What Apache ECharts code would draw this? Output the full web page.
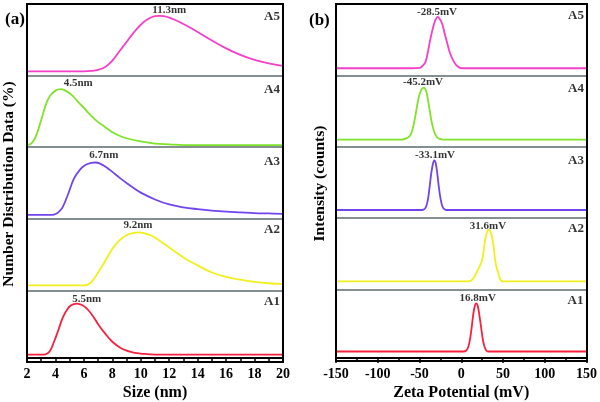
<!DOCTYPE html>
<html>
<head>
<meta charset="utf-8">
<script src="https://cdn.jsdelivr.net/npm/echarts@6/dist/echarts.min.js"></script>
<style>
  html, body { margin: 0; padding: 0; background: #fff; }
  #chart { width: 600px; height: 402px; }
</style>
</head>
<body>
<div id="chart"></div>
<script>
// Données (hauteur en % de la hauteur de chaque sous-graphe)
const sampleNames = ['A5', 'A4', 'A3', 'A2', 'A1'];
const sampleColors = ['#f53fc8', '#7fe32a', '#7144ee', '#f2ef1c', '#f5213f'];

// (a) distribution en taille, x en nm
const sizeA5 = [[2,6],[4,6],[6,6],[6.5,6.5],[7,8],[7.5,12],[8,21],[8.5,34],[9,47],[9.5,60],[10,71],[10.5,79],[11,83],[11.3,83.5],[11.6,83],[12,81],[12.5,77],[13,72],[14,61],[15,49],[16,38],[17,29],[18,22],[19,17],[20,13.5]];
const sizeA4 = [[2,3],[2.3,5],[2.6,14],[3,38],[3.3,58],[3.6,71],[4,79],[4.4,81],[4.8,78],[5.2,72],[5.6,63],[6,55],[6.5,44],[7,35],[7.5,28],[8,21],[8.5,16],[9,12.5],[10,8],[11,5],[12,4],[13,3],[14,3],[16,3],[18,3],[20,3]];
const sizeA3 = [[2,5.5],[3,5.5],[3.6,5.5],[3.9,6],[4.2,9],[4.5,16],[4.9,35],[5.3,56],[5.7,68],[6.1,75],[6.5,78],[6.8,78.6],[7.1,77.5],[7.5,73],[8,65.5],[8.5,57.5],[9,50],[9.5,43],[10,36.5],[11,27],[12,20],[13,16],[14,13.5],[15,11.5],[16,10],[17,9],[18,8],[19,7.5],[20,7]];
const sizeA2 = [[2,7],[4,7],[6,7],[6.5,11],[7,25],[7.5,41],[8,58],[8.5,70],[9,77],[9.5,80.5],[9.8,81],[10.2,80],[10.8,76],[11.5,67],[12,60],[12.5,53],[13,46],[13.5,40],[14,35],[15,25],[16,19],[17,15],[18,12],[19,10],[20,9]];
const sizeA1 = [[2,5],[3,5],[3.3,5.5],[3.6,10],[3.9,24],[4.2,41],[4.5,59],[4.8,71],[5.1,78],[5.5,80.5],[5.9,78],[6.3,71],[6.7,60],[7,50],[7.5,36],[8,24],[8.5,16],[9,11],[9.5,8],[10,6.5],[11,5],[14,5],[17,5],[20,5]];

// (b) potentiel zêta, x en mV
const zetaA5 = [[-150,10],[-60,10],[-50,10.5],[-46,14],[-43,19],[-40,34],[-37,52],[-34,67],[-31,78],[-28.5,82],[-26,79],[-23,72],[-20,58],[-17,45],[-14,32],[-10,21],[-6,14],[-2,10.5],[0,10],[150,10]];
const zetaA4 = [[-150,10],[-72,10],[-67,11.5],[-63,14],[-60,19],[-57,32],[-54,51],[-51,70],[-48,80],[-45,83],[-42,77],[-40,65],[-38,51],[-35,31],[-32,19],[-29,13],[-26,11],[-22,10],[150,10]];
const zetaA3 = [[-150,11.5],[-47,11.5],[-44,13],[-42,17],[-40,27],[-38,45],[-36,64],[-34,77],[-32.5,81],[-31,78],[-29,63],[-27,43],[-25,27],[-23,17],[-21,13],[-18,11.5],[150,11.5]];
const zetaA2 = [[-150,11.5],[8,11.5],[12,13],[15,17],[18,24],[21,31],[24,39],[26,50],[28,68],[30,79],[32.5,84],[35,80],[37,71],[39,55],[40,43],[42,31],[44,23],[46,15],[48,12],[49,11.5],[150,11.5]];
const zetaA1 = [[-150,9.5],[3,9.5],[6,11],[8,15],[10,24],[12,40],[14,60],[16,75],[18,80],[20,75],[22,60],[24,43],[26,26],[28,16],[30,11],[32,9.5],[150,9.5]];

const sizeSeries = [sizeA5, sizeA4, sizeA3, sizeA2, sizeA1];
const zetaSeries = [zetaA5, zetaA4, zetaA3, zetaA2, zetaA1];

// Étiquettes de pic : [x, y, texte]
const sizePeakLabels = [[12, 91, '11.3nm'], [5.6, 89, '4.5nm'], [7.4, 88.5, '6.7nm'], [9.8, 90.5, '9.2nm'], [6.2, 87.5, '5.5nm']];
const zetaPeakLabels = [[-29.3, 88.5, '-28.5mV'], [-46, 90, '-45.2mV'], [-31.7, 88, '-33.1mV'], [31.6, 88.5, '31.6mV'], [19.7, 87.5, '16.8mV']];
const sampleLabelY = [83, 81, 80, 85, 84];

const sizeTicks = { min: 2, max: 20, interval: 2 };
const zetaTicks = { min: -150, max: 150, interval: 50 };

const serif = '"Liberation Serif", "DejaVu Serif", serif';

// Mise en page des deux panneaux
const panels = [
  { left: 27, right: 283, top: 4, bottom: 362, series: sizeSeries, peaks: sizePeakLabels, ticks: sizeTicks, xName: 'Size (nm)', yName: 'Number Distribution Data (%)', yTitleX: 9 },
  { left: 336, right: 587, top: 4, bottom: 361, series: zetaSeries, peaks: zetaPeakLabels, ticks: zetaTicks, xName: 'Zeta Potential (mV)', yName: 'Intensity (counts)', yTitleX: 320 }
];

let grids = [], xAxes = [], yAxes = [], series = [], graphics = [];

panels.forEach((p, pi) => {
  const h = (p.bottom - p.top) / 5;
  for (let i = 0; i < 5; i++) {
    const idx = grids.length;
    const isBottom = i === 4;
    grids.push({ left: p.left, width: p.right - p.left, top: p.top + i * h, height: h });
    xAxes.push({
      gridIndex: idx, type: 'value', min: p.ticks.min, max: p.ticks.max, interval: p.ticks.interval,
      axisLine: { show: true, onZero: false, lineStyle: { color: isBottom ? '#000' : '#5d6a6e', width: isBottom ? 2 : 1.5 } },
      axisTick: { show: isBottom, length: 5, lineStyle: { color: '#000', width: 1.5 } },
      minorTick: { show: isBottom, splitNumber: 2, length: 3, lineStyle: { color: '#000', width: 1.5 } },
      axisLabel: { show: isBottom, color: '#000', fontFamily: serif, fontWeight: 'bold', fontSize: 14, margin: 9 },
      splitLine: { show: false },
      name: isBottom ? p.xName : '', nameLocation: 'middle', nameGap: 27,
      nameTextStyle: { color: '#000', fontFamily: serif, fontWeight: 'bold', fontSize: 16 }
    });
    yAxes.push({ gridIndex: idx, type: 'value', min: 0, max: 100, show: false });

    series.push({
      type: 'line', xAxisIndex: idx, yAxisIndex: idx,
      data: p.series[i], smooth: 0.4, showSymbol: false, symbol: 'none',
      lineStyle: { color: sampleColors[i], width: 1.8 }, z: 3
    });
    const pk = p.peaks[i];
    series.push({
      type: 'scatter', xAxisIndex: idx, yAxisIndex: idx, symbolSize: 0,
      data: [[pk[0], pk[1]]], silent: true,
      label: { show: true, position: 'inside', formatter: pk[2], color: '#000', fontFamily: serif, fontWeight: 'bold', fontSize: 11 }
    });
    series.push({
      type: 'scatter', xAxisIndex: idx, yAxisIndex: idx, symbolSize: 0,
      data: [[p.ticks.max, sampleLabelY[i]]], silent: true,
      label: { show: true, position: 'left', distance: 3, formatter: sampleNames[i], color: '#000', fontFamily: serif, fontWeight: 'bold', fontSize: 13 }
    });
  }
  // cadre noir du panneau
  const fi = grids.length;
  grids.push({ left: p.left, width: p.right - p.left, top: p.top, height: p.bottom - p.top, show: true, borderColor: '#000', borderWidth: 2, backgroundColor: 'transparent', z: 5 });
  xAxes.push({ gridIndex: fi, type: 'value', min: 0, max: 1, show: false });
  yAxes.push({ gridIndex: fi, type: 'value', min: 0, max: 1, show: false });
  // titre de l'axe y
  graphics.push({
    type: 'text', x: p.yTitleX, y: (p.top + p.bottom) / 2 + 1, rotation: Math.PI / 2,
    style: { text: p.yName, fill: '#000', font: 'bold 15.5px ' + serif, align: 'center', verticalAlign: 'middle' }
  });
});

const chart = echarts.init(document.getElementById('chart'), null, { renderer: 'canvas' });
chart.setOption({
  animation: false,
  backgroundColor: '#fff',
  title: [
    { text: '(a)', left: 0, top: 6, textStyle: { fontFamily: serif, fontWeight: 'bold', fontSize: 17, color: '#000' } },
    { text: '(b)', left: 304, top: 7, textStyle: { fontFamily: serif, fontWeight: 'bold', fontSize: 17, color: '#000' } }
  ],
  grid: grids,
  xAxis: xAxes,
  yAxis: yAxes,
  series: series,
  graphic: graphics
});
</script>
</body>
</html>
